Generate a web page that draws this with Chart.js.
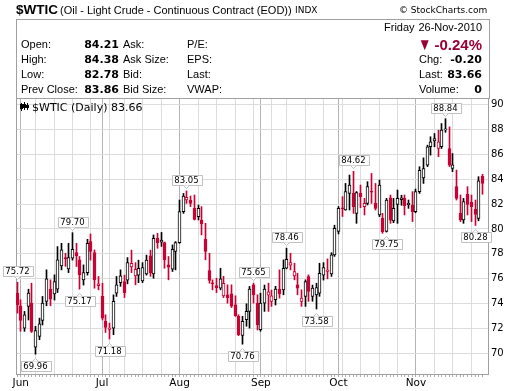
<!DOCTYPE html>
<html><head><meta charset="utf-8">
<script src="https://cdn.jsdelivr.net/npm/chart.js@4.4.0/dist/chart.umd.min.js"></script>
<style>
html,body{margin:0;padding:0;background:#fff}
body{width:520px;height:391px;overflow:hidden;position:relative;font-family:"Liberation Sans",Arial,sans-serif;color:#000}
#c{position:absolute;left:0;top:0}
.t{position:absolute;white-space:nowrap;font-size:11px;line-height:11px}
.b{font-weight:bold;font-family:"DejaVu Sans",Verdana,sans-serif;font-size:11px}
.r{text-align:right}
#box{position:absolute;left:16px;top:19px;width:472px;height:79px;border:1px solid #a0a0a0;border-bottom:none}
</style></head><body>
<canvas id="c" width="520" height="391"></canvas>
<div id="box"></div>
<div class="t" style="left:16px;top:3px;font-weight:bold;font-size:13.5px;line-height:14px">$WTIC</div>
<div class="t" style="left:60px;top:5px">(Oil - Light Crude - Continuous Contract (EOD))</div>
<div class="t" style="left:295px;top:6px;font-family:'DejaVu Sans';font-size:9px;line-height:9px">INDX</div>
<div class="t" style="left:399px;top:6px;font-family:'DejaVu Sans';font-size:9px;line-height:9px">© StockCharts.com</div>

<div class="t" style="left:21px;top:39px">Open:</div>
<div class="t" style="left:21px;top:54px">High:</div>
<div class="t" style="left:21px;top:69px">Low:</div>
<div class="t" style="left:21px;top:84px">Prev Close:</div>
<div class="t b r" style="right:401px;top:39px">84.21</div>
<div class="t b r" style="right:401px;top:54px">84.38</div>
<div class="t b r" style="right:401px;top:69px">82.78</div>
<div class="t b r" style="right:401px;top:84px">83.86</div>
<div class="t" style="left:123px;top:39px">Ask:</div>
<div class="t" style="left:123px;top:54px">Ask Size:</div>
<div class="t" style="left:123px;top:69px">Bid:</div>
<div class="t" style="left:123px;top:84px">Bid Size:</div>
<div class="t" style="left:187px;top:39px">P/E:</div>
<div class="t" style="left:187px;top:54px">EPS:</div>
<div class="t" style="left:187px;top:69px">Last:</div>
<div class="t" style="left:187px;top:84px">VWAP:</div>

<div class="t" style="left:384px;top:22px">Friday</div>
<div class="t r" style="right:38px;top:22px">26-Nov-2010</div>
<div class="t" style="left:418px;top:36px;color:#990033;font-size:17px;line-height:17px;transform:scaleX(0.8);transform-origin:left top">&#9660;</div>
<div class="t r" style="right:38px;top:37px;color:#990033;font-weight:bold;font-size:15px;line-height:15px">-0.24%</div>
<div class="t" style="left:419px;top:54px">Chg:</div>
<div class="t" style="left:419px;top:69px">Last:</div>
<div class="t" style="left:419px;top:84px">Volume:</div>
<div class="t b r" style="right:38px;top:54px">-0.20</div>
<div class="t b r" style="right:38px;top:69px">83.66</div>
<div class="t b r" style="right:38px;top:84px">0</div>

<div class="t" style="left:32px;top:102px;font-family:'DejaVu Sans';font-size:11px;line-height:11px">$WTIC (Daily) 83.66</div>

<script>
// ---- data (May 28 .. Nov 26, 2010, one entry per trading day) ----
const opens  = [74.85,73.84,72.05,73.79,74.05,70.53,71.39,72.67,74.19,75.17,74.80,75.17,77.04,77.70,76.80,77.65,78.10,77.52,75.92,76.50,
                78.99,78.10,75.45,74.59,72.59,71.95,72.05,74.85,75.70,75.79,75.90,76.95,76.24,76.30,75.84,76.40,77.84,76.40,79.25,78.95,
                78.90,77.12,76.77,78.19,78.90,81.39,82.32,82.32,81.65,80.99,80.72,79.17,76.67,75.65,75.45,75.25,74.64,74.72,74.80,73.92,
                72.99,71.47,72.72,73.39,75.52,74.05,71.92,74.05,74.70,74.19,74.32,75.17,75.12,76.85,77.10,76.24,75.52,74.19,74.59,76.19,
                74.59,74.72,74.85,76.30,76.60,76.40,77.92,79.80,81.70,81.52,82.85,82.85,81.25,82.85,81.79,82.05,83.00,82.05,81.12,80.85,
                79.80,82.50,80.65,81.97,82.35,82.45,81.95,81.92,81.39,82.99,84.10,85.12,86.60,87.05,86.45,86.59,87.95,86.45,84.85,83.39,
                81.25,80.72,82.77,82.13,81.57,80.85,84.21];
const highs  = [75.72,74.32,73.39,75.17,75.65,72.19,72.85,74.59,76.72,75.92,76.32,78.59,78.85,78.05,78.85,79.70,78.85,77.79,77.12,79.17,
                79.60,78.32,76.19,75.65,73.12,72.45,74.72,76.19,76.72,76.30,77.70,78.30,77.30,77.50,77.30,77.90,78.30,79.52,79.65,79.72,
                78.95,77.79,78.72,78.99,82.32,82.85,83.05,82.64,82.72,81.92,81.79,80.45,78.05,75.92,76.05,76.85,76.20,75.52,75.52,74.64,
                73.12,73.00,74.00,75.39,75.65,74.72,74.85,75.50,75.65,75.10,75.40,76.72,77.52,78.46,78.05,77.25,76.45,75.12,75.92,76.32,
                75.50,75.65,77.25,77.30,77.60,78.10,80.30,81.80,82.59,83.65,84.32,84.62,83.00,83.52,82.45,83.79,84.45,83.65,83.92,81.25,
                82.45,82.72,82.45,83.12,82.70,82.72,82.32,82.99,83.20,84.99,85.70,86.72,87.39,87.65,87.92,88.45,88.84,88.19,86.05,84.72,
                82.72,82.45,83.39,82.72,82.32,84.19,84.38];
const lows   = [73.25,71.80,71.79,72.70,71.70,69.96,71.12,72.30,73.84,73.84,74.30,74.90,76.72,77.00,76.50,77.50,76.99,75.17,75.50,76.30,
                77.50,75.25,75.12,72.70,71.70,71.18,71.52,74.59,75.40,74.50,75.60,76.50,75.52,75.70,75.70,76.30,76.20,76.05,78.45,78.60,
                76.85,75.92,76.59,76.72,78.85,81.25,82.05,81.79,80.72,80.72,79.52,77.52,75.65,75.12,74.90,75.12,74.50,74.05,73.70,72.99,
                71.44,70.76,72.20,72.05,74.05,71.90,71.80,73.39,73.39,73.79,73.90,74.45,74.72,76.80,76.72,75.92,74.72,73.79,73.79,74.19,
                74.20,73.58,74.60,75.90,76.00,76.20,77.80,79.60,81.00,81.50,81.52,81.25,80.45,81.70,81.12,81.92,82.05,81.52,80.99,79.65,
                79.75,80.45,80.50,80.45,81.90,81.12,81.65,80.59,81.30,82.85,83.65,85.00,85.92,86.59,85.79,86.45,87.75,85.00,84.60,82.32,
                80.59,80.45,81.12,80.59,80.28,80.65,82.78];
const closes = [73.92,72.67,73.12,74.85,71.79,71.85,72.40,74.05,76.00,74.37,75.79,77.52,78.32,77.60,77.70,78.37,77.84,76.32,76.50,78.85,
                78.19,75.92,75.60,72.85,72.10,72.05,74.19,75.52,76.24,74.90,77.30,77.25,76.77,76.85,76.90,77.50,76.50,79.25,78.90,79.10,
                77.52,76.93,78.37,78.90,81.39,82.64,82.53,82.05,80.77,81.65,80.40,78.19,75.87,75.60,75.30,76.00,75.65,74.50,73.80,73.04,
                71.52,72.59,73.39,75.17,74.72,72.30,74.05,75.17,74.95,74.64,75.17,74.80,76.85,77.57,77.30,76.59,75.25,74.45,75.79,74.99,
                75.25,75.30,76.45,76.90,76.70,77.92,80.05,81.65,81.60,82.99,83.52,81.79,82.92,82.59,82.05,83.39,82.95,81.65,83.52,79.79,
                82.32,80.70,81.65,82.45,82.50,81.87,82.05,81.39,82.99,84.70,84.85,86.59,86.99,87.25,86.99,87.92,88.00,85.12,85.15,82.45,
                80.72,82.19,81.97,81.79,81.17,83.86,83.66];
const monthLabels = ['Jun','Jul','Aug','Sep','Oct','Nov'];
const monthStarts = [1,23,44,66,87,108];
const weekStarts  = [5,10,15,20,25,29,34,39,49,54,59,64,69,73,78,83,88,93,98,103,113,118,123];
const yTickValues = [70,72,74,76,78,80,82,84,86,88,90];
const markIdx  = [0,5,15,17,25,46,61,64,73,81,91,100,116,124];
const markSide = ['H','L','H','L','L','H','L','H','H','L','H','L','H','L'];

const UP='#000000', DOWN='#cc0033';
const idx = opens.map((_,i)=>i);
const col = i => (i===0 ? (closes[0]>=opens[0]) : (closes[i]>=closes[i-1])) ? UP : DOWN;
const bodyFill = i => closes[i] < opens[i] ? col(i) : '#ffffff';

const snap = {
  id:'snap',
  beforeDatasetsDraw(chart){
    chart.data.datasets.forEach((ds,di)=>{
      chart.getDatasetMeta(di).data.forEach(el=>{ el.x = Math.floor(el.x)+0.5; });
    });
  }
};
const frame = {
  id:'frame',
  beforeDatasetsDraw(chart){
    const {ctx, chartArea:a} = chart;
    ctx.save();
    ctx.strokeStyle='#a0a0a0'; ctx.lineWidth=1;
    ctx.strokeRect(Math.floor(a.left)+0.5, Math.floor(a.top)+0.5, Math.round(a.right-a.left), Math.round(a.bottom-a.top));
    ctx.restore();
  },
  afterDraw(chart){
    const {ctx, chartArea:a} = chart;
    const xs = chart.scales.x;
    ctx.save();
    ctx.fillStyle='#b0b0b0';
    idx.forEach(i=>{ const x=Math.floor(xs.getPixelForValue(i)); ctx.fillRect(x, a.bottom+1, 1, 2); });
    ctx.fillStyle='#000';
    ctx.fillRect(21,103,1,8); ctx.fillRect(20,104,3,5);
    ctx.fillRect(24,102,1,8); ctx.fillRect(23,104,3,4);
    ctx.fillRect(27,103,1,7); ctx.fillRect(26,105,3,3);
    ctx.restore();
  }
};
const marks = {
  id:'marks',
  afterDatasetsDraw(chart){
    const {ctx} = chart; const xs=chart.scales.x, ys=chart.scales.y;
    ctx.save();
    ctx.font = '8.5px "DejaVu Sans"';
    ctx.textAlign='center'; ctx.textBaseline='middle';
    markIdx.forEach((i,k)=>{
      const hi = markSide[k]==='H';
      const v = hi ? highs[i] : lows[i];
      const txt = v.toFixed(2);
      const x = Math.floor(xs.getPixelForValue(i))+0.5;
      const y = ys.getPixelForValue(v);
      const w = Math.ceil(ctx.measureText(txt).width)+5, h=10;
      const bx = Math.round(x - w/2)+0.5;
      const by = hi ? Math.round(y-6-h)+0.5 : Math.round(y+7)+0.5;
      ctx.fillStyle='#fff'; ctx.strokeStyle='#c0c0c0'; ctx.lineWidth=1;
      ctx.beginPath();
      ctx.rect(bx,by,w,h); ctx.fill(); ctx.stroke();
      ctx.beginPath();
      if(hi){ ctx.moveTo(x-3,by+h); ctx.lineTo(x,by+h+3); ctx.lineTo(x+3,by+h); }
      else { ctx.moveTo(x-3,by); ctx.lineTo(x,by-3); ctx.lineTo(x+3,by); }
      ctx.fill(); ctx.stroke();
      ctx.fillStyle='#000';
      ctx.fillText(txt, x, by+h/2+0.5);
    });
    ctx.restore();
  }
};

new Chart(document.getElementById('c'), {
  type:'bar',
  data:{ datasets:[
    { label:'body', data: idx.map(i=>({x:i, y:[opens[i], closes[i]]})),
      backgroundColor: idx.map(bodyFill), borderColor: idx.map(col), borderWidth:1, borderSkipped:false,
      barThickness:3, minBarLength:1, grouped:false, order:0 },
    { label:'wick', data: idx.map(i=>({x:i, y:[lows[i], highs[i]]})),
      backgroundColor: idx.map(col), borderWidth:0, barThickness:1, grouped:false, order:1 }
  ]},
  options:{
    responsive:false, animation:false, events:[],
    layout:{padding:{left:16, top:98, right:0, bottom:0}},
    plugins:{legend:{display:false}, tooltip:{enabled:false}},
    scales:{
      x:{ type:'linear', min:-0.3, max:127.5, offset:false,
          afterBuildTicks: s => { s.ticks = [...monthStarts, ...weekStarts].sort((a,b)=>a-b).map(v=>({value:v})); },
          afterFit: s => { s.height = 17; },
          ticks:{ autoSkip:false, maxRotation:0, minRotation:0, padding:3, color:'#000',
                  font:{family:'DejaVu Sans', size:10.5},
                  callback: v => { const k = monthStarts.indexOf(v); return k>=0 ? monthLabels[k] : ''; } },
          grid:{ offset:false, drawTicks:false, color: c => (c.tick && monthStarts.includes(c.tick.value)) ? '#b4b4b4' : '#dcdcdc' },
          border:{display:false} },
      y:{ position:'right', min:68.37, max:90.5,
          afterBuildTicks: s => { s.ticks = yTickValues.map(v=>({value:v})); },
          afterFit: s => { s.width = 32; },
          ticks:{ padding:3, color:'#000', font:{family:'DejaVu Sans', size:10}, callback: v => String(v) },
          grid:{ drawTicks:false, color:'#dcdcdc' },
          border:{display:false} }
    }
  },
  plugins:[snap, frame, marks]
});
</script>
</body></html>
